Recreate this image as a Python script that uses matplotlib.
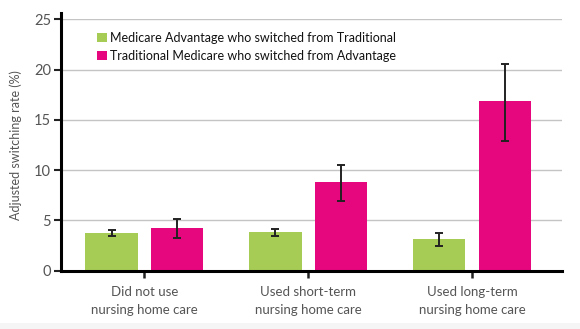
import matplotlib
matplotlib.use("Agg")
import matplotlib.pyplot as plt
from matplotlib.patches import Rectangle
import numpy as np

categories = ["Did not use\nnursing home care", "Used short-term\nnursing home care", "Used long-term\nnursing home care"]
series_names = ["Medicare Advantage who switched from Traditional",
                "Traditional Medicare who switched from Advantage"]
ma_values = [3.8, 3.9, 3.2]
ma_low = [3.45, 3.45, 2.45]
ma_high = [4.1, 4.2, 3.75]
tm_values = [4.3, 8.8, 16.9]
tm_low = [3.3, 6.9, 12.9]
tm_high = [5.1, 10.5, 20.6]
yticks = [0, 5, 10, 15, 20, 25]

green = "#a6cc55"
pink = "#e6077f"
tick_gray = "#555555"

fig = plt.figure(figsize=(5.8, 3.29), dpi=100)
fig.patch.set_facecolor("white")
fig.patches.append(Rectangle((0, 0), 1, 0.019, transform=fig.transFigure,
                             facecolor="#f5f5f5", edgecolor="none", zorder=0))
ax = fig.add_axes([0.105, 0.177, 0.864, 0.764])

x = np.arange(len(categories))
w = 0.32
off = 0.2

ma_err = [np.array(ma_values) - np.array(ma_low), np.array(ma_high) - np.array(ma_values)]
tm_err = [np.array(tm_values) - np.array(tm_low), np.array(tm_high) - np.array(tm_values)]

ax.bar(x - off, ma_values, w, color=green, label=series_names[0], zorder=2)
ax.bar(x + off, tm_values, w, color=pink, label=series_names[1], zorder=2)
ax.errorbar(x - off, ma_values, yerr=ma_err, fmt="none", ecolor="#222222",
            elinewidth=1.4, capsize=3, capthick=1.4, zorder=3)
ax.errorbar(x + off, tm_values, yerr=tm_err, fmt="none", ecolor="#222222",
            elinewidth=1.4, capsize=3, capthick=1.4, zorder=3)

ax.set_ylim(0, 25)
ax.set_xlim(-0.51, 2.55)
ax.set_yticks(yticks)
ax.set_xticks(x)
ax.set_xticklabels(categories, fontsize=9.5, color=tick_gray, family="Lato", linespacing=1.6)
for lab in ax.get_yticklabels():
    lab.set_fontsize(10.5)
    lab.set_color(tick_gray)
    lab.set_family("Lato")
ax.yaxis.grid(True, color="#c4c4c4", linewidth=1.0, zorder=0)
ax.set_axisbelow(True)

for s in ["top", "right"]:
    ax.spines[s].set_visible(False)
ax.spines["left"].set_linewidth(2.2)
ax.spines["bottom"].set_linewidth(2.2)
ax.spines["left"].set_bounds(0, 25.6)
ax.tick_params(axis="y", length=5, width=1.5, colors="#222222", labelcolor=tick_gray, pad=2)
ax.tick_params(axis="x", length=5, width=1.8, colors="#222222", labelcolor=tick_gray, pad=6)

ax.set_ylabel("Adjusted switching rate (%)", fontsize=9, color=tick_gray, family="Lato", labelpad=9)

leg = ax.legend(loc="upper left", bbox_to_anchor=(0.05, 0.995), frameon=False,
                handlelength=0.75, handleheight=0.75, handletextpad=0.25,
                labelspacing=0.45, prop={"family": "Lato", "size": 9})
for t in leg.get_texts():
    t.set_color("#111111")

plt.savefig("out.png", dpi=100)
